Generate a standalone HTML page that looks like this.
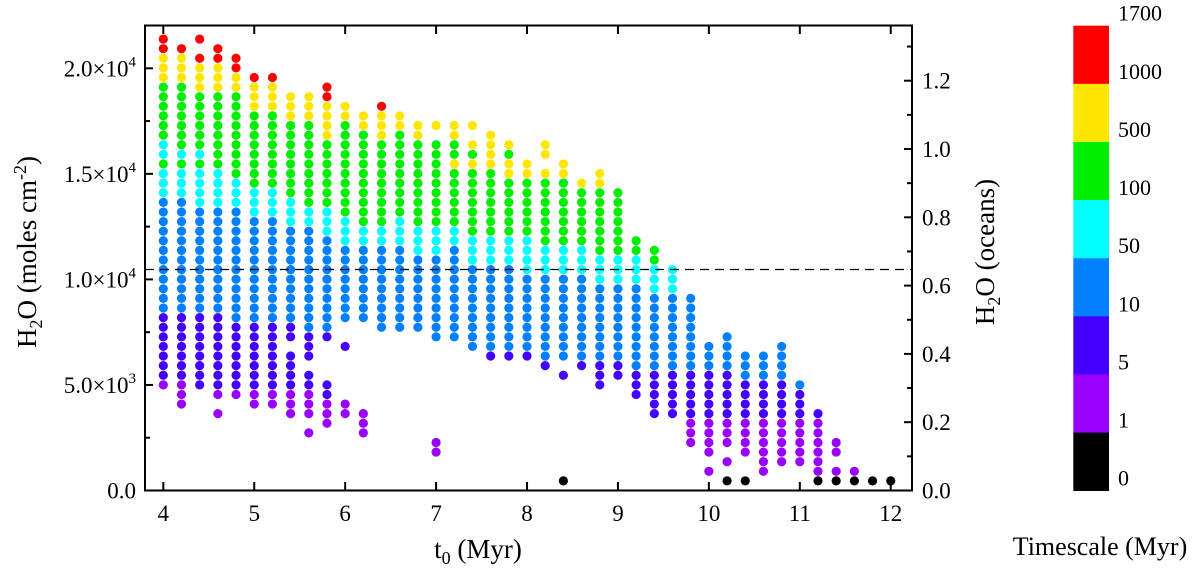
<!DOCTYPE html>
<html><head><meta charset="utf-8">
<style>
html,body{margin:0;padding:0;background:#fff;}
svg{display:block;}
svg text{font-family:"Liberation Serif","Times New Roman",serif;}
</style></head>
<body>
<svg id="chart" width="1200" height="570" viewBox="0 0 1200 570" xmlns="http://www.w3.org/2000/svg">
<g id="dots"></g>
<line x1="145" y1="269.5" x2="912" y2="269.5" stroke="#000" stroke-width="1.2" stroke-dasharray="9,6"/>
<rect x="145" y="25.5" width="767" height="465" fill="none" stroke="#000" stroke-width="2"/>
<g id="axes"></g>
<text transform="translate(36,252) rotate(-90)" text-anchor="middle" font-size="27">H<tspan font-size="18" dy="6">2</tspan><tspan dy="-6">O (moles cm</tspan><tspan font-size="18" dy="-10">-2</tspan><tspan dy="10">)</tspan></text>
<text transform="translate(994,252) rotate(-90)" text-anchor="middle" font-size="27">H<tspan font-size="18" dy="6">2</tspan><tspan dy="-6">O (oceans)</tspan></text>
<text x="478" y="558" text-anchor="middle" font-size="27">t<tspan font-size="18" dy="6">0</tspan><tspan dy="-6"> (Myr)</tspan></text>
<g id="cbar"></g>
<text x="1100" y="555" text-anchor="middle" font-size="26">Timescale (Myr)</text>
</svg>
<script>
const NS="http://www.w3.org/2000/svg";
// ---- data ----
const t0Values=[4.0,4.2,4.4,4.6,4.8,5.0,5.2,5.4,5.6,5.8,6.0,6.2,6.4,6.6,6.8,7.0,7.2,7.4,7.6,7.8,8.0,8.2,8.4,8.6,8.8,9.0,9.2,9.4,9.6,9.8,10.0,10.2,10.4,10.6,10.8,11.0,11.2,11.4,11.6,11.8,12.0];
// each column: category segments "Cat from-to" in level units (level * stepMoles = H2O)
const stepMoles=455;
const columnSegments=[
["V11","I12-18","B19-30","C31-33","G34","C35-36","G37-42","Y43-45","R46-47"],
["V9-11","I12-18","B19-30","C31-33","G34","C35","G36-42","Y43-45","R46"],
["I11-18","B19-29","C30-33","G34","C35","G36-41","Y42-44","R45","R47"],
["V8","V10","I11-18","B19-29","C30-33","G34-41","Y42-44","R45-46"],
["V10","I11-17","B18-29","C30-32","G33-41","Y42-43","R44-45"],
["V9-10","I11-17","B18-28","C29-31","G32-39","Y40-42","R43"],
["V9-10","I11-17","B18-28","C29-31","G32-39","Y40-42","R43"],
["V8-10","I11-14","I16-17","B18-27","C28-30","G31-38","Y39-41"],
["V6","V8-10","I11-12","I14-16","B17-27","C28-29","G30-38","Y39-41"],
["V7-9","I10-11","I16","B17-26","C27-29","G30-36","Y37-40","R41-42"],
["V8-9","I15","B18-25","C26-28","G29-38","Y39-40"],
["V6-8","B18-25","C26-27","G28-37","Y38-39"],
["B17-25","C26-27","G28-36","Y37-39","R40"],
["B17-25","C26-28","G29-37","Y38-39"],
["B17-24","C25-27","G28-36","Y37-38"],
["V4-5","B16-24","C25-27","G28-36","Y38"],
["B16-25","C26-27","G28-33","Y34","G35-36","Y37-38"],
["B15-23","C24-26","G27-33","Y34","G35","Y36","Y38"],
["I14","B15-23","C24-26","G27-33","Y34-37"],
["I14","B15-23","C24-26","G27-32","Y33-34","G35","Y36"],
["I14","B15-22","C23-26","G27-32","Y33-34"],
["I13","B14-22","C23-25","G26-32","Y33","Y35-36"],
["K1","I12","B14-22","C23-25","G26-32","Y33-34"],
["I13","B14-22","C23-25","G26-31","Y32"],
["I11-13","B14-21","C22-24","G25-31","Y32-33"],
["I12-13","B14-21","C22-24","G25-31"],
["I10-12","B13-21","C22-24","G25-26"],
["I8-12","B13-20","C21-23","G24-25"],
["I8-12","B13-20","C21-23"],
["V5-7","I8-12","B13-20"],
["V2","V4-7","I8-12","B13-15"],
["K1","V3","V5-7","I8-12","B13-16"],
["K1","V4-7","I8-11","B12-14"],
["V2-7","I8-11","B12-14"],
["V3-7","I8-11","B12-15"],
["V3-7","I8-10","B11"],
["K1","V2-7","I8"],
["K1","V2","V4-5"],
["K1","V2"],
["K1"],
["K1"]
];
const categoryColors={K:"#000000",V:"#9900ff",I:"#4400ff",B:"#0080ff",C:"#00ffff",G:"#00ee00",Y:"#ffe600",R:"#ff0000"};
const xTicks=[4,5,6,7,8,9,10,11,12];
const yTicks=[0,5000,10000,15000,20000];
const yTickLabels=["0.0","5.0×10|3","1.0×10|4","1.5×10|4","2.0×10|4"];
const oceanTicks=[0,0.2,0.4,0.6,0.8,1.0,1.2];
const cbarColors=["#ff0000","#ffe600","#00ee00","#00ffff","#0080ff","#4400ff","#9900ff","#000000"];
const cbarLabels=["1700","1000","500","100","50","10","5","1","0"];
// ---- scales ----
const xS=t=>163.3+(t-4)*90.93;
const yS=v=>490.5-v*0.02111;
const yO=o=>490.5-o*341.5;
function el(tag,attrs,parent){const e=document.createElementNS(NS,tag);for(const k in attrs)e.setAttribute(k,attrs[k]);parent.appendChild(e);return e;}
const dots=document.getElementById("dots");
columnSegments.forEach((segs,ci)=>{
  segs.forEach(s=>{
    const cat=s[0];const r=s.slice(1).split("-").map(Number);
    const a=r[0],b=r.length>1?r[1]:r[0];
    for(let k=a;k<=b;k++){
      const c=el("circle",{cx:xS(t0Values[ci]),cy:yS(k*stepMoles),r:4.6,fill:categoryColors[cat]},dots);
      
      
    }
  });
});
const axes=document.getElementById("axes");
xTicks.forEach(t=>{
  const x=xS(t);
  const l1=el("line",{x1:x,y1:490.5,x2:x,y2:482,stroke:"#000","stroke-width":2},axes);
  
  
  el("line",{x1:x,y1:25.5,x2:x,y2:34,stroke:"#000","stroke-width":2},axes);
  const tx=el("text",{x:x,y:521,"text-anchor":"middle","font-size":23},axes);
  tx.textContent=String(t);
  
  
});
yTicks.forEach((v,i)=>{
  const y=yS(v);
  el("line",{x1:145,y1:y,x2:153,y2:y,stroke:"#000","stroke-width":2},axes);
  if(i<yTicks.length-1){const ym=yS(v+2500);el("line",{x1:145,y1:ym,x2:150,y2:ym,stroke:"#000","stroke-width":2},axes);}
  const tx=el("text",{x:136,y:y+8,"text-anchor":"end","font-size":23},axes);
  
  
  const p=yTickLabels[i].split("|");
  tx.textContent=p[0];
  if(p[1]){const sp=el("tspan",{"font-size":15,dy:-10},tx);sp.textContent=p[1];}
});
oceanTicks.forEach((o,i)=>{
  const y=yO(o);
  el("line",{x1:912,y1:y,x2:904,y2:y,stroke:"#000","stroke-width":2},axes);
  const ym=yO(o+0.1);
  if(ym>26) el("line",{x1:912,y1:ym,x2:907,y2:ym,stroke:"#000","stroke-width":2},axes);
  const tx=el("text",{x:922,y:y+8,"font-size":23},axes);
  tx.textContent=o.toFixed(1);
  
  
});
const cb=document.getElementById("cbar");
const cbTop=25.7,cbH=(490.7-25.7)/cbarColors.length;
cbarColors.forEach((c,i)=>{
  const r=el("rect",{x:1073.3,y:cbTop+i*cbH,width:35.7,height:cbH+0.3,fill:c},cb);
  
  
});
cbarLabels.forEach((s,i)=>{
  const tx=el("text",{x:1118,y:cbTop+i*cbH-5,"font-size":22},cb);
  tx.textContent=s;
  
  
});
</script>
</body></html>
